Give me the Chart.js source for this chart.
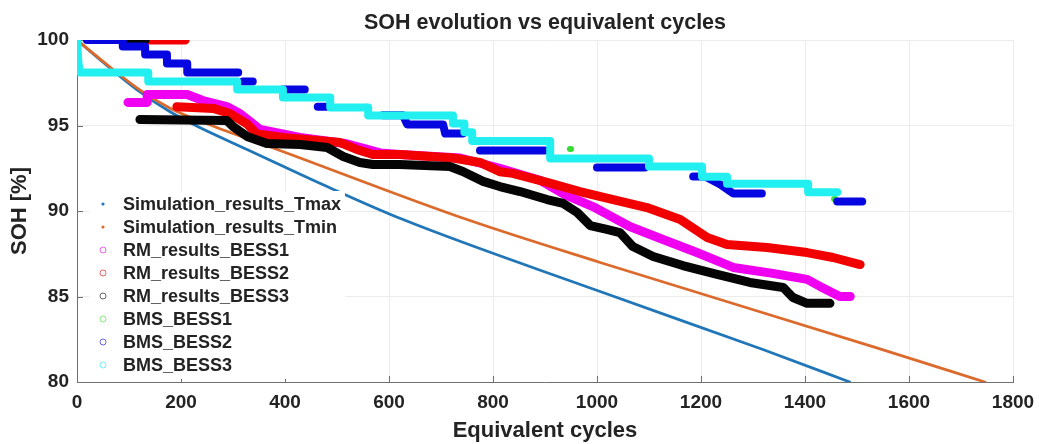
<!DOCTYPE html>
<html><head><meta charset="utf-8">
<script src="https://cdn.jsdelivr.net/npm/chart.js@4.4.0/dist/chart.umd.min.js"></script>
<style>html,body{margin:0;padding:0;background:#fff;}</style>
</head><body>
<canvas id="c" width="1039" height="444"></canvas>
<script>
const titleText = 'SOH evolution vs equivalent cycles';
const xTitle = 'Equivalent cycles';
const yTitle = 'SOH [%]';
const cycleTicks = [0, 200, 400, 600, 800, 1000, 1200, 1400, 1600, 1800];
const sohTicks = [80, 85, 90, 95, 100];
const seriesNames = ['Simulation_results_Tmax', 'Simulation_results_Tmin', 'RM_results_BESS1', 'RM_results_BESS2', 'RM_results_BESS3', 'BMS_BESS1', 'BMS_BESS2', 'BMS_BESS3'];

// [cycles, SOH %]; null = gap between clusters
const simTmax = [[0,100],[50,98.7],[115,97.1],[179,95.8],[236,94.88],[327,93.6],[481,91.43],[627,89.5],[1006,85.29],[1319,81.9],[1486,80]];
const simTmin = [[0,100],[50,98.75],[120,97.1],[180,96.0],[250,95.1],[385,93.6],[750,89.5],[1006,86.99],[1538,82.0],[1746,80]];
const rmBess1 = [[98,96.35],[135,96.35],[135,96.81],[212,96.81],[242,96.46],[288,96.11],[313,95.7],[333,95.23],[352,94.77],[429,94.3],[515,93.95],[583,93.4],[621,93.3],[737,93.1],[813,92.5],[890,91.8],[938,90.96],[992,90.26],[1063,89.09],[1127,88.33],[1192,87.57],[1262,86.7],[1338,86.35],[1404,86.0],[1429,85.59],[1467,85.0],[1487,85.0]];
const rmBess2 = [[131,100],[208,100],null,[192,96.1],[262,96.0],[294,95.7],[327,95.1],[346,94.5],[396,94.3],[506,94.0],[538,93.6],[569,93.3],[621,93.3],[723,93.1],[775,92.84],[813,92.3],[838,92.2],[904,91.67],[967,91.14],[1031,90.67],[1096,90.2],[1160,89.5],[1212,88.45],[1250,88.04],[1327,87.87],[1404,87.57],[1454,87.28],[1506,86.87]];
const rmBess3 = [[88,100],[131,100],null,[121,95.35],[288,95.29],[300,94.94],[327,94.36],[365,93.95],[429,93.89],[481,93.71],[512,93.19],[544,92.84],[569,92.72],[621,92.72],[717,92.6],[742,92.31],[781,91.73],[813,91.43],[852,91.14],[904,90.67],[935,90.44],[962,89.91],[987,89.15],[1019,88.92],[1044,88.74],[1069,87.92],[1108,87.34],[1165,86.81],[1231,86.29],[1294,85.82],[1358,85.53],[1377,84.94],[1404,84.6],[1448,84.6]];
const bmsBess1 = [[556,96.1],[558,96.1],null,[721,95.5],[723,95.5],null,[948,93.62],[950,93.62],null,[1456,90.7],[1458,90.7]];
const bmsBess2 = [[19,100],[88,100],[88,99.62],[131,99.62],[131,99.15],[173,99.15],[173,98.63],[212,98.63],[212,98.1],[310,98.1],null,[319,97.57],[338,97.57],null,[396,97.1],[438,97.1],null,[463,96.1],[487,96.1],null,[588,95.6],[627,95.6],[635,95.06],[704,95.06],[708,94.53],[742,94.53],null,[775,93.54],[900,93.54],null,[1000,92.54],[1092,92.54],null,[1185,92.02],[1208,92.02],[1237,91.55],[1262,91.02],[1317,91.02],null,[1462,90.56],[1510,90.56]];
const bmsBess3 = [[0,100],[3,98.6],[6,98.1],[137,98.1],[137,97.57],[308,97.57],[308,97.1],[396,97.1],[396,96.64],[487,96.64],[487,96.05],[560,96.05],[560,95.58],[723,95.58],[723,95.12],[745,95.12],[745,94.6],[760,94.6],[760,94.1],[910,94.1],[910,93.07],[1100,93.07],[1100,92.6],[1202,92.6],[1202,92.0],[1250,92.0],[1250,91.6],[1406,91.6],[1406,91.1],[1462,91.1]];

const seriesData = [simTmax, simTmin, rmBess1, rmBess2, rmBess3, bmsBess1, bmsBess2, bmsBess3];
const seriesColors = ['#2176b8', '#db6a2c', '#f000f0', '#f20000', '#050505', '#33dd33', '#0606e0', '#22f0f0'];
const legendMarker = ['dot', 'dot', 'ring', 'ring', 'ring', 'ring', 'ring', 'ring'];
const bandWidths = [2.8, 2.8, 9, 9, 9, 6, 8, 8];

function toPts(arr) {
  const out = []; let lastX = 0;
  arr.forEach(p => { if (p === null) out.push({x: lastX, y: null}); else { out.push({x: p[0], y: p[1]}); lastX = p[0]; } });
  return out;
}

const FONT = '"Liberation Sans", Arial, sans-serif';
const TXT = '#232323';
const AXIS = '#707070';

const datasets = seriesData.map((d, i) => {
  const isSim = i < 2;
  return {
    label: seriesNames[i],
    data: toPts(d),
    borderColor: seriesColors[i],
    backgroundColor: seriesColors[i],
    borderWidth: bandWidths[i],
    pointRadius: 0,
    borderCapStyle: 'round',
    borderJoinStyle: 'round',
    cubicInterpolationMode: isSim ? 'monotone' : 'default',
    tension: 0,
    spanGaps: false,
    order: 20 - i
  };
});

const overlay = {
  id: 'overlay',
  beforeDatasetsDraw(chart) {
    const {ctx, chartArea: a, scales: {x, y}} = chart;
    ctx.save();
    ctx.strokeStyle = AXIS; ctx.lineWidth = 1;
    cycleTicks.forEach(v => { const px = Math.round(x.getPixelForValue(v)) + 0.5; ctx.beginPath(); ctx.moveTo(px, a.bottom); ctx.lineTo(px, a.bottom - 6); ctx.stroke(); });
    sohTicks.forEach(v => { const py = Math.round(y.getPixelForValue(v)) + 0.5; ctx.beginPath(); ctx.moveTo(a.left, py); ctx.lineTo(a.left + 6, py); ctx.stroke(); });
    ctx.restore();
  },
  afterDatasetsDraw(chart) {
    const {ctx, chartArea: a} = chart;
    ctx.save();
    // title
    ctx.fillStyle = TXT;
    ctx.font = 'bold 21.5px ' + FONT;
    ctx.textAlign = 'center'; ctx.textBaseline = 'middle';
    ctx.fillText(titleText, (a.left + a.right) / 2, 23);
    // legend
    const lx = 89, ly = 191, rowH = 23;
    ctx.fillStyle = '#ffffff';
    ctx.fillRect(lx, ly, 256, rowH * seriesNames.length + 4);
    ctx.font = 'bold 18px ' + FONT;
    ctx.textAlign = 'left';
    seriesNames.forEach((n, i) => {
      const cy = ly + 13 + i * rowH;
      if (legendMarker[i] === 'dot') {
        ctx.fillStyle = seriesColors[i];
        ctx.beginPath(); ctx.arc(103, cy, 1.6, 0, Math.PI * 2); ctx.fill();
      } else {
        ctx.strokeStyle = seriesColors[i]; ctx.globalAlpha = 0.6; ctx.lineWidth = 1;
        ctx.beginPath(); ctx.arc(103, cy, 3, 0, Math.PI * 2); ctx.stroke();
        ctx.globalAlpha = 1;
      }
      ctx.fillStyle = TXT;
      ctx.fillText(n, 123, cy + 1);
    });
    ctx.restore();
  }
};

new Chart(document.getElementById('c'), {
  type: 'line',
  data: { datasets },
  options: {
    responsive: false,
    animation: false,
    events: [],
    layout: { padding: { top: 40, right: 26, left: 0, bottom: 0 } },
    plugins: { legend: { display: false }, title: { display: false }, tooltip: { enabled: false } },
    scales: {
      x: {
        type: 'linear', min: 0, max: 1800,
        afterBuildTicks: s => { s.ticks = cycleTicks.map(v => ({value: v})); },
        afterFit: s => { s.height = 62; s.paddingLeft = 0; s.paddingRight = 0; },
        ticks: { color: TXT, font: { family: FONT, size: 19, weight: 'bold' }, padding: 9, maxRotation: 0, autoSkip: false, callback: v => String(v) },
        grid: { color: '#ececec', drawTicks: false },
        border: { color: AXIS, width: 1 },
        title: { display: true, text: xTitle, color: TXT, font: { family: FONT, size: 22, weight: 'bold' }, padding: { top: 0, bottom: 0 } }
      },
      y: {
        type: 'linear', min: 80, max: 100,
        afterBuildTicks: s => { s.ticks = sohTicks.map(v => ({value: v})); },
        afterFit: s => { s.width = 77; s.paddingTop = 0; s.paddingBottom = 0; },
        ticks: { color: TXT, font: { family: FONT, size: 19, weight: 'bold' }, padding: 8, callback: v => String(v) },
        grid: { color: '#ececec', drawTicks: false },
        border: { color: AXIS, width: 1 },
        title: { display: true, text: yTitle, color: TXT, font: { family: FONT, size: 22, weight: 'bold' }, padding: { top: 7, bottom: 0 } }
      }
    }
  },
  plugins: [overlay]
});
</script>
</body></html>
